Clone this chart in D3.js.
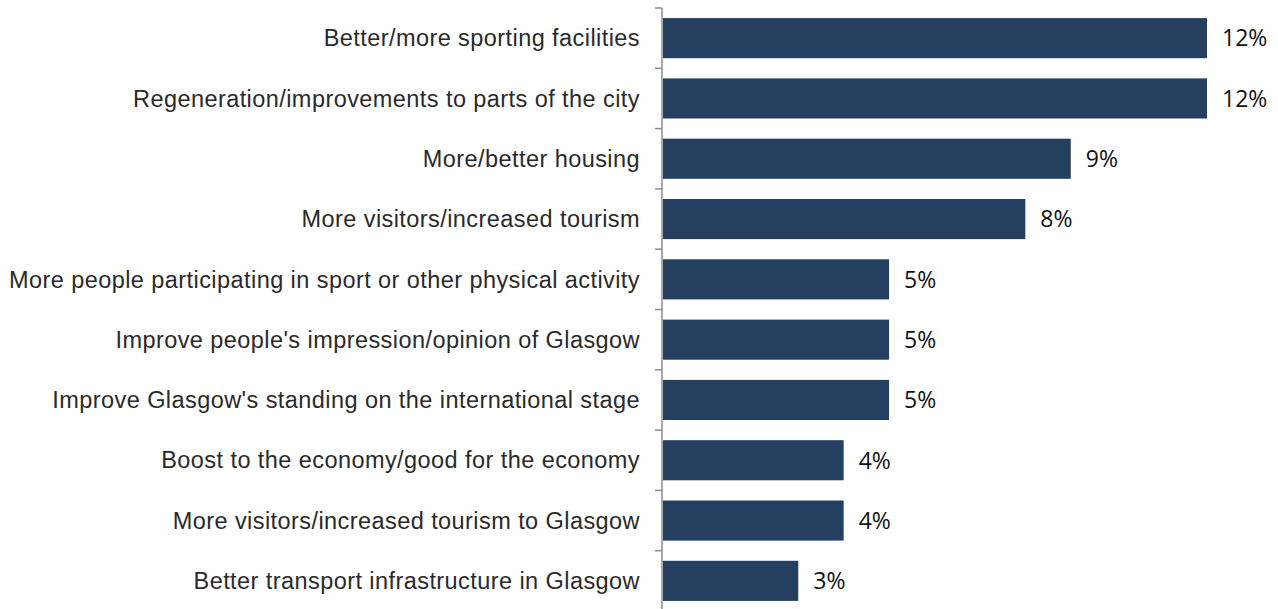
<!DOCTYPE html>
<html>
<head>
<meta charset="utf-8">
<script src="https://cdn.jsdelivr.net/npm/d3@7"></script>
<style>
  html, body { margin: 0; padding: 0; background: #fff; }
  svg { display: block; }
</style>
</head>
<body>
<svg id="chart" width="1278" height="609"></svg>
<script>
// Perceived benefits, share of respondents (%)
const categories = [
  "Better/more sporting facilities",
  "Regeneration/improvements to parts of the city",
  "More/better housing",
  "More visitors/increased tourism",
  "More people participating in sport or other physical activity",
  "Improve people's impression/opinion of Glasgow",
  "Improve Glasgow's standing on the international stage",
  "Boost to the economy/good for the economy",
  "More visitors/increased tourism to Glasgow",
  "Better transport infrastructure in Glasgow"
];
const values = [12, 12, 9, 8, 5, 5, 5, 4, 4, 3];
const valueLabels = ["12%", "12%", "9%", "8%", "5%", "5%", "5%", "4%", "4%", "3%"];

const svg = d3.select("#chart");
const axisX = 662;
const plotTop = 8, plotBottom = 611;

const x = d3.scaleLinear().domain([0, 12]).range([axisX, 1207]);
const y = d3.scaleBand().domain(categories).range([plotTop, plotBottom]).paddingInner(0.335).paddingOuter(0.1675);

// Bars
svg.append("g").selectAll("rect")
  .data(values)
  .join("rect")
  .attr("x", x(0) + 1)
  .attr("y", (d, i) => y(categories[i]))
  .attr("width", d => x(d) - x(0) - 1)
  .attr("height", y.bandwidth())
  .attr("fill", "#253f60");

// Category axis: vertical line with ticks at band boundaries
const axisG = svg.append("g");
axisG.append("line")
  .attr("x1", axisX).attr("x2", axisX)
  .attr("y1", plotTop).attr("y2", 609)
  .attr("stroke", "#8c8c8c").attr("stroke-width", 1.5);
const step = y.step();
axisG.selectAll("line.tick")
  .data(d3.range(categories.length + 1))
  .join("line")
  .attr("class", "tick")
  .attr("x1", axisX - 7).attr("x2", axisX)
  .attr("y1", i => plotTop + i * step).attr("y2", i => plotTop + i * step)
  .attr("stroke", "#8c8c8c").attr("stroke-width", 1.5);

// Category labels
svg.append("g").selectAll("text")
  .data(categories)
  .join("text")
  .attr("x", 640)
  .attr("y", d => y(d) + y.bandwidth() / 2)
  .attr("dy", "0.35em")
  .attr("text-anchor", "end")
  .attr("font-family", "Liberation Sans, Arial, sans-serif")
  .attr("font-size", 23.5)
  .attr("letter-spacing", 0.43)
  .attr("fill", "#2a2a2a")
  .text(d => d);

// Value labels
svg.append("g").selectAll("text")
  .data(values)
  .join("text")
  .attr("x", d => x(d) + 15)
  .attr("y", (d, i) => y(categories[i]) + y.bandwidth() / 2)
  .attr("dy", "0.36em")
  .attr("font-family", "Open Sans, sans-serif")
  .attr("font-size", 23)
  .attr("fill", "#111")
  .text((d, i) => valueLabels[i]);
</script>
</body>
</html>
